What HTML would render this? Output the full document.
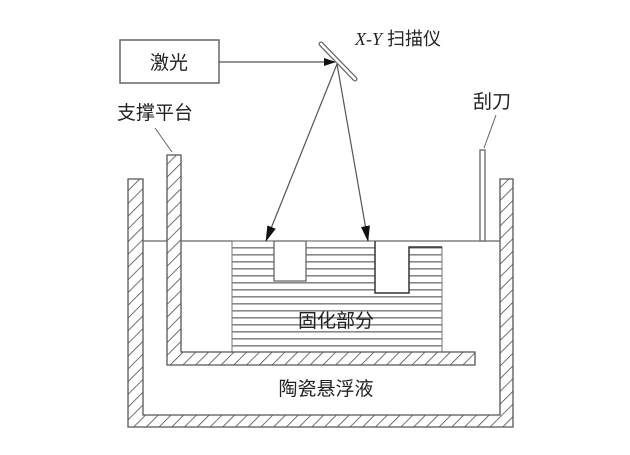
<!DOCTYPE html>
<html><head><meta charset="utf-8"><style>
body{margin:0;background:#fff}
svg{display:block}
text{font-family:"Liberation Sans","Noto Sans CJK SC",sans-serif;fill:#222}
</style></head><body>
<svg width="630" height="455" viewBox="0 0 630 455">
<defs>
<pattern id="h" patternUnits="userSpaceOnUse" width="9" height="9" patternTransform="rotate(45)">
<rect width="9" height="9" fill="#fff"/><line x1="0" y1="0" x2="0" y2="9" stroke="#444" stroke-width="1.5"/>
</pattern>
<pattern id="s" patternUnits="userSpaceOnUse" width="10" height="7">
<rect width="10" height="7" fill="#fff"/><rect y="2" width="10" height="1.6" fill="#888"/>
</pattern>
<marker id="a" markerWidth="12" markerHeight="8" refX="11" refY="4" orient="auto" markerUnits="userSpaceOnUse"><path d="M0,0 L12,4 L0,8z" fill="#111"/></marker>
<marker id="b" markerWidth="16" markerHeight="9" refX="15" refY="4.5" orient="auto" markerUnits="userSpaceOnUse"><path d="M0,0 L16,4.5 L0,9z" fill="#111"/></marker>
</defs>
<rect x="120" y="40" width="99" height="43" fill="#fff" stroke="#666" stroke-width="1.5"/>
<text x="169" y="69" font-size="19" text-anchor="middle">激光</text>
<line x1="219" y1="62" x2="335" y2="62" stroke="#555" stroke-width="1.3" marker-end="url(#a)"/>
<line x1="321" y1="44" x2="355" y2="79" stroke="#666" stroke-width="5" stroke-linecap="round"/>
<line x1="321" y1="44" x2="355" y2="79" stroke="#fff" stroke-width="2.5" stroke-linecap="round"/>
<text x="355" y="45" font-size="18"><tspan font-family="Liberation Serif" font-style="italic">X-Y</tspan> 扫描仪</text>
<text x="117" y="119" font-size="19">支撑平台</text>
<text x="473" y="108" font-size="19">刮刀</text>
<line x1="155" y1="128" x2="172" y2="152" stroke="#666"/>
<line x1="496" y1="115" x2="484" y2="148" stroke="#666"/>
<path d="M128,179 H143 V415 H500 V179 H513 V427 H128 Z" fill="url(#h)" stroke="#555" stroke-width="1.3"/>
<line x1="143" y1="241" x2="500" y2="241" stroke="#666" stroke-width="1.2"/>
<path d="M232,241 H274 V281 H306 V241 H375 V293 H409 V247 H442 V352 H232 Z" fill="url(#s)" stroke="#777" stroke-width="1"/>
<path d="M375,241 V293 H409 V247 H442" fill="none" stroke="#333" stroke-width="1.5"/>
<path d="M274,241 V281 H306 V241" fill="none" stroke="#666" stroke-width="1.3"/>
<path d="M167,155 H181 V352 H475 V365 H167 Z" fill="url(#h)" stroke="#555" stroke-width="1.3"/>
<rect x="480" y="150" width="5" height="91" fill="#fff" stroke="#666" stroke-width="1.3"/>
<line x1="337" y1="64" x2="266" y2="241" stroke="#555" stroke-width="1.2" marker-end="url(#b)"/>
<line x1="337" y1="64" x2="368" y2="241" stroke="#555" stroke-width="1.2" marker-end="url(#b)"/>
<text x="336" y="327" font-size="19" text-anchor="middle">固化部分</text>
<text x="326" y="395" font-size="19" text-anchor="middle">陶瓷悬浮液</text>
</svg>
</body></html>
